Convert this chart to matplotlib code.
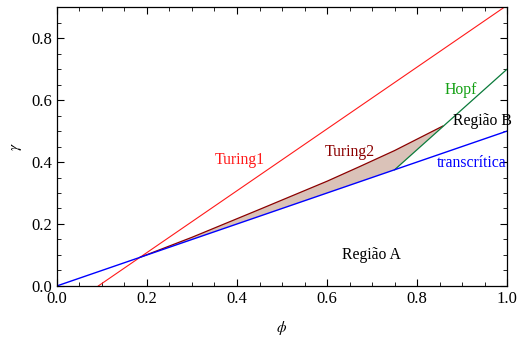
import matplotlib
matplotlib.use("Agg")
import matplotlib.pyplot as plt
import numpy as np

plt.rcParams['font.family'] = ['Liberation Serif', 'DejaVu Serif']
plt.rcParams['mathtext.fontset'] = 'stix'

# data
turing1_phi = [0.092, 0.994]
turing1_gam = [0.0, 0.9]
trans_phi = [0.0, 1.0]
trans_gam = [0.0, 0.5]
turing2_phi = [0.184, 0.30, 0.45, 0.60, 0.672, 0.75, 0.857]
turing2_gam = [0.092, 0.157, 0.247, 0.338, 0.385, 0.437, 0.516]
hopf_phi = [0.75, 1.0]
hopf_gam = [0.375, 0.70]
# lower boundary of shaded region
lower_phi = [0.184, 0.75, 0.857]
lower_gam = [0.092, 0.375, 0.516]

fig = plt.figure(figsize=(5.17, 3.38), dpi=100)
ax = fig.add_axes([0.110, 0.154, 0.871, 0.825])

poly_x = list(turing2_phi) + list(lower_phi[::-1])
poly_y = list(turing2_gam) + list(lower_gam[::-1])
ax.fill(poly_x, poly_y, color='#dac2b8', lw=0)

ax.plot(turing1_phi, turing1_gam, color='#ff1a1a', lw=0.8)
ax.plot(turing2_phi, turing2_gam, color='#8b0000', lw=0.9)
ax.plot(hopf_phi, hopf_gam, color='#0a7a3a', lw=0.9)
ax.plot(trans_phi, trans_gam, color='#0000ff', lw=1.0)

fs = 11.3
ax.text(0.406, 0.406, 'Turing1', color='#ff1a1a', fontsize=fs, ha='center', va='center')
ax.text(0.65, 0.432, 'Turing2', color='#8b0000', fontsize=fs, ha='center', va='center')
ax.text(0.898, 0.632, 'Hopf', color='#13a013', fontsize=fs, ha='center', va='center')
ax.text(0.945, 0.532, 'Região B', color='black', fontsize=fs, ha='center', va='center', clip_on=False)
ax.text(0.92, 0.397, 'transcrítica', color='#0000ff', fontsize=fs, ha='center', va='center')
ax.text(0.698, 0.10, 'Região A', color='black', fontsize=fs, ha='center', va='center')

ax.set_xlim(0, 1)
ax.set_ylim(0, 0.9)
ax.set_xticks(np.arange(0, 1.01, 0.2))
ax.set_yticks(np.arange(0, 0.81, 0.2))
ax.set_xticks(np.arange(0, 1.01, 0.05), minor=True)
ax.set_yticks(np.arange(0, 0.91, 0.05), minor=True)
ax.xaxis.set_major_formatter(matplotlib.ticker.FormatStrFormatter('%.1f'))
ax.yaxis.set_major_formatter(matplotlib.ticker.FormatStrFormatter('%.1f'))
ax.tick_params(which='both', direction='in', top=True, right=True, labelsize=12)
ax.tick_params(which='major', length=5, width=0.8)
ax.tick_params(which='minor', length=3, width=0.6)
for s in ax.spines.values():
    s.set_linewidth(0.9)

ax.set_xlabel(r'$\phi$', fontsize=11, labelpad=9)
ax.set_ylabel(r'$\gamma$', fontsize=11, labelpad=5)

fig.savefig('out.png', dpi=100)
